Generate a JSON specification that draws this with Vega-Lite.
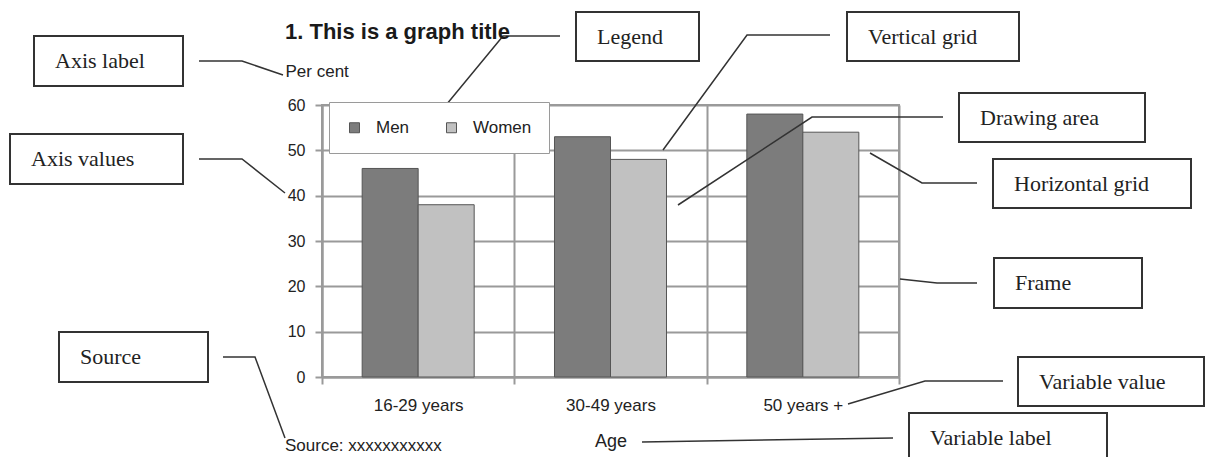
{
  "$schema": "https://vega.github.io/schema/vega-lite/v6.json",
  "width": 577,
  "height": 272,
  "autosize": {"type": "none"},
  "padding": {"left": 322, "top": 105, "right": 307, "bottom": 80},
  "background": "white",
  "config": {
    "view": {"stroke": "#9a9a9a", "strokeWidth": 2},
    "font": "Liberation Sans"
  },
  "title": {
    "text": "1. This is a graph title",
    "anchor": "start",
    "frame": "group",
    "dx": -37,
    "offset": -33,
    "fontSize": 22,
    "fontWeight": "bold",
    "font": "Liberation Sans",
    "color": "#1a1a1a"
  },
  "datasets": {
    "bars": [
      {"age": "16-29 years", "sex": "Men", "percent": 46},
      {"age": "16-29 years", "sex": "Women", "percent": 38},
      {"age": "30-49 years", "sex": "Men", "percent": 53},
      {"age": "30-49 years", "sex": "Women", "percent": 48},
      {"age": "50 years +", "sex": "Men", "percent": 58},
      {"age": "50 years +", "sex": "Women", "percent": 54}
    ],
    "notes": [
      {"label": "Axis label", "x1": 34, "x2": 183, "y1": 36, "y2": 86},
      {"label": "Axis values", "x1": 10, "x2": 183, "y1": 134, "y2": 184},
      {"label": "Legend", "x1": 576, "x2": 699, "y1": 12, "y2": 61},
      {"label": "Vertical grid", "x1": 847, "x2": 1019, "y1": 12, "y2": 61},
      {"label": "Drawing area", "x1": 959, "x2": 1145, "y1": 93, "y2": 142},
      {"label": "Horizontal grid", "x1": 993, "x2": 1191, "y1": 159, "y2": 208},
      {"label": "Frame", "x1": 994, "x2": 1142, "y1": 258, "y2": 308},
      {"label": "Source", "x1": 59, "x2": 208, "y1": 332, "y2": 382},
      {"label": "Variable value", "x1": 1018, "x2": 1204, "y1": 357, "y2": 406},
      {"label": "Variable label", "x1": 909, "x2": 1107, "y1": 413, "y2": 462}
    ],
    "leaders": [
      {"id": "Axis label", "k": 1, "fx": 199, "fy": 61},
      {"id": "Axis label", "k": 2, "fx": 242, "fy": 61},
      {"id": "Axis label", "k": 3, "fx": 283, "fy": 75},
      {"id": "Axis values", "k": 1, "fx": 199, "fy": 159},
      {"id": "Axis values", "k": 2, "fx": 242, "fy": 159},
      {"id": "Axis values", "k": 3, "fx": 285, "fy": 193},
      {"id": "Legend", "k": 1, "fx": 560, "fy": 36},
      {"id": "Legend", "k": 2, "fx": 503, "fy": 36},
      {"id": "Legend", "k": 3, "fx": 437, "fy": 116},
      {"id": "Vertical grid", "k": 1, "fx": 830, "fy": 35},
      {"id": "Vertical grid", "k": 2, "fx": 747, "fy": 35},
      {"id": "Vertical grid", "k": 3, "fx": 663, "fy": 150},
      {"id": "Drawing area", "k": 1, "fx": 943, "fy": 117},
      {"id": "Drawing area", "k": 2, "fx": 812, "fy": 117},
      {"id": "Drawing area", "k": 3, "fx": 678, "fy": 205},
      {"id": "Horizontal grid", "k": 1, "fx": 977, "fy": 183},
      {"id": "Horizontal grid", "k": 2, "fx": 922, "fy": 183},
      {"id": "Horizontal grid", "k": 3, "fx": 870, "fy": 153},
      {"id": "Frame", "k": 1, "fx": 977, "fy": 283},
      {"id": "Frame", "k": 2, "fx": 937, "fy": 283},
      {"id": "Frame", "k": 3, "fx": 900, "fy": 279},
      {"id": "Source", "k": 1, "fx": 223, "fy": 357},
      {"id": "Source", "k": 2, "fx": 255, "fy": 357},
      {"id": "Source", "k": 3, "fx": 285, "fy": 438},
      {"id": "Variable value", "k": 1, "fx": 1003, "fy": 381},
      {"id": "Variable value", "k": 2, "fx": 925, "fy": 381},
      {"id": "Variable value", "k": 3, "fx": 848, "fy": 404},
      {"id": "Variable label", "k": 1, "fx": 893, "fy": 438},
      {"id": "Variable label", "k": 2, "fx": 642, "fy": 442}
    ],
    "texts": [
      {"text": "Source: xxxxxxxxxxx", "fx": 285, "fy": 446}
    ]
  },
  "layer": [
    {
      "data": {"name": "bars"},
      "mark": {"type": "bar", "stroke": "#555555", "strokeWidth": 1},
      "encoding": {
        "x": {
          "field": "age",
          "type": "nominal",
          "sort": null,
          "scale": {"paddingInner": 0, "paddingOuter": 0},
          "axis": {
            "title": "Age",
            "titleFontSize": 18,
            "titleFontWeight": "normal",
            "titleColor": "#222",
            "titlePadding": 19,
            "labelAngle": 0,
            "labelFontSize": 17,
            "labelColor": "#222",
            "labelPadding": 13,
            "tickBand": "extent",
            "tickSize": 7,
            "tickColor": "#9a9a9a",
            "tickWidth": 2,
            "domainColor": "#9a9a9a",
            "domainWidth": 2,
            "grid": true,
            "gridColor": "#9a9a9a",
            "gridWidth": 2
          }
        },
        "xOffset": {
          "field": "sex",
          "type": "nominal",
          "sort": ["Men", "Women"],
          "scale": {"paddingInner": 0, "paddingOuter": 0.717}
        },
        "y": {
          "field": "percent",
          "type": "quantitative",
          "scale": {"domain": [0, 60], "nice": false},
          "axis": {
            "title": "Per cent",
            "titleAngle": 0,
            "titleAlign": "left",
            "titleBaseline": "alphabetic",
            "titleX": -37,
            "titleY": -29,
            "titleFontSize": 17,
            "titleFontWeight": "normal",
            "titleColor": "#222",
            "values": [0, 10, 20, 30, 40, 50, 60],
            "labelFontSize": 16,
            "labelColor": "#222",
            "labelPadding": 10,
            "tickSize": 7,
            "tickColor": "#9a9a9a",
            "tickWidth": 2,
            "domainColor": "#9a9a9a",
            "domainWidth": 2,
            "grid": true,
            "gridColor": "#9a9a9a",
            "gridWidth": 2
          }
        },
        "color": {
          "field": "sex",
          "type": "nominal",
          "sort": ["Men", "Women"],
          "scale": {"range": ["#7c7c7c", "#c1c1c1"]},
          "legend": {
            "title": null,
            "orient": "none",
            "legendX": 7,
            "legendY": -3,
            "direction": "horizontal",
            "symbolType": "square",
            "symbolSize": 100,
            "symbolStrokeColor": "#555",
            "symbolStrokeWidth": 1,
            "labelFontSize": 17,
            "labelColor": "#222",
            "labelOffset": 13,
            "columnPadding": 33,
            "padding": 17,
            "fillColor": "white",
            "strokeColor": "#9a9a9a"
          }
        }
      }
    },
    {
      "data": {"name": "notes"},
      "mark": {"type": "rect", "fill": "white", "stroke": "#333", "strokeWidth": 2},
      "encoding": {
        "x": {"field": "x1", "type": "quantitative", "scale": {"domain": [322, 899], "nice": false, "zero": false}, "axis": null},
        "x2": {"field": "x2"},
        "y": {"field": "y1", "type": "quantitative", "scale": {"domain": [105, 377], "nice": false, "zero": false, "reverse": true}, "axis": null},
        "y2": {"field": "y2"}
      }
    },
    {
      "data": {"name": "notes"},
      "mark": {"type": "text", "align": "left", "baseline": "middle", "dx": 21, "dy": 25, "font": "Liberation Serif", "fontSize": 22, "color": "#222"},
      "encoding": {
        "x": {"field": "x1", "type": "quantitative", "scale": {"domain": [322, 899], "nice": false, "zero": false}, "axis": null},
        "y": {"field": "y1", "type": "quantitative", "scale": {"domain": [105, 377], "nice": false, "zero": false, "reverse": true}, "axis": null},
        "text": {"field": "label"}
      }
    },
    {
      "data": {"name": "leaders"},
      "mark": {"type": "line", "stroke": "#333", "strokeWidth": 1.5},
      "encoding": {
        "x": {"field": "fx", "type": "quantitative", "scale": {"domain": [322, 899], "nice": false, "zero": false}, "axis": null},
        "y": {"field": "fy", "type": "quantitative", "scale": {"domain": [105, 377], "nice": false, "zero": false, "reverse": true}, "axis": null},
        "detail": {"field": "id"},
        "order": {"field": "k"}
      }
    },
    {
      "data": {"name": "texts"},
      "mark": {"type": "text", "align": "left", "baseline": "middle", "font": "Liberation Sans", "fontSize": 17, "color": "#222"},
      "encoding": {
        "x": {"field": "fx", "type": "quantitative", "scale": {"domain": [322, 899], "nice": false, "zero": false}, "axis": null},
        "y": {"field": "fy", "type": "quantitative", "scale": {"domain": [105, 377], "nice": false, "zero": false, "reverse": true}, "axis": null},
        "text": {"field": "text"}
      }
    }
  ],
  "resolve": {"scale": {"x": "independent", "y": "independent"}}
}
